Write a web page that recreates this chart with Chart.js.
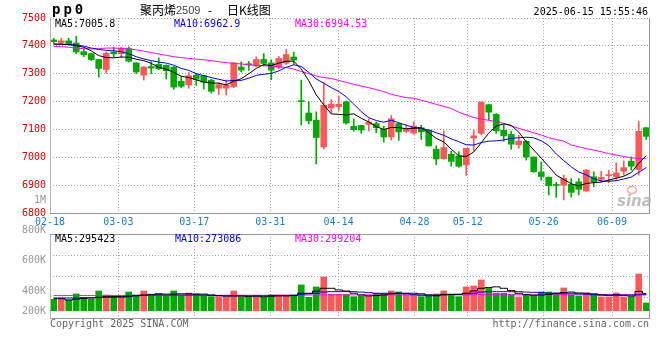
<!DOCTYPE html>
<html><head><meta charset="utf-8">
<script src="https://cdn.jsdelivr.net/npm/chart.js@4"></script>
<style>
html,body{margin:0;padding:0;background:#fff;}
#wrap{position:relative;width:660px;height:360px;background:#fff;}
canvas{position:absolute;left:0;top:0;}
</style></head><body>
<div id="wrap"><canvas id="c1" width="660" height="360"></canvas><canvas id="c2" width="660" height="360"></canvas></div>
<script>
// ---- data ----
const opens = [7421,7412,7418,7410,7379,7372,7351,7315,7378,7372,
7390,7339,7295,7326,7334,7330,7324,7273,7260,7295,
7293,7277,7248,7248,7254,7324,7335,7328,7351,7339,
7323,7338,7360,7202,7159,7133,7037,7177,7182,7199,
7111,7114,7118,7121,7100,7073,7121,7093,7087,7106,
7097,7029,6995,7011,7005,6973,7069,7086,7189,7154,
7097,7082,7045,7058,7001,6947,6928,6902,6900,6903,
6912,6879,6930,6921,6934,6930,6950,6986,6956,7106];
const highs = [7427,7427,7427,7434,7388,7374,7352,7378,7395,7395,
7396,7340,7326,7343,7357,7332,7326,7290,7304,7300,
7294,7280,7268,7278,7340,7342,7344,7360,7372,7350,
7362,7387,7377,7277,7200,7163,7268,7207,7220,7202,
7138,7115,7138,7127,7112,7150,7123,7118,7127,7115,
7100,7041,7095,7022,7020,7033,7098,7199,7190,7157,
7118,7094,7079,7059,7002,6983,6930,6910,6936,6923,
6924,6956,6948,6950,6954,6980,6987,7001,7129,7107];
const lows = [7409,7408,7404,7372,7361,7347,7288,7302,7360,7357,
7342,7301,7277,7300,7314,7281,7244,7250,7248,7258,
7245,7230,7225,7224,7250,7306,7312,7325,7327,7278,
7317,7333,7333,7116,7120,6976,7030,7159,7168,7119,
7094,7086,7094,7088,7055,7062,7061,7088,7082,7064,
7040,6973,6993,6968,6964,6935,7024,7080,7134,7086,
7058,7029,7032,6990,6946,6918,6865,6856,6847,6857,
6865,6878,6894,6912,6909,6918,6936,6954,6936,7064];
const closes = [7415,7418,7408,7378,7368,7351,7319,7374,7371,7392,
7345,7306,7324,7320,7318,7311,7252,7255,7293,7280,
7269,7237,7261,7260,7339,7313,7332,7351,7337,7313,
7355,7369,7349,7200,7131,7071,7187,7191,7190,7123,
7099,7098,7126,7106,7073,7138,7091,7104,7112,7091,
7041,6994,7035,6985,6968,7032,7077,7198,7162,7095,
7077,7047,7058,7001,6948,6931,6898,6899,6924,6874,
6885,6954,6912,6928,6937,6944,6963,6968,7093,7075];
const ma5 = [7406,7406,7404,7401,7395,7382,7365,7358,7357,7360,
7359,7352,7347,7337,7323,7316,7305,7291,7286,7278,
7270,7267,7266,7260,7273,7282,7300,7319,7333,7329,
7338,7345,7345,7317,7275,7224,7188,7156,7154,7152,
7156,7140,7127,7110,7100,7107,7107,7102,7104,7106,
7088,7068,7055,7029,7005,7003,7019,7052,7087,7112,
7120,7115,7090,7056,7026,6997,6967,6936,6920,6905,
6897,6906,6909,6911,6918,6925,6932,6945,6978,7006];
const ma10 = [7406,7406,7405,7403,7399,7392,7387,7384,7382,7379,
7372,7361,7353,7347,7342,7338,7331,7319,7312,7300,
7293,7286,7280,7274,7276,7276,7284,7294,7298,7301,
7310,7323,7332,7326,7305,7281,7266,7250,7236,7217,
7191,7164,7142,7132,7126,7133,7124,7115,7107,7104,
7098,7088,7079,7066,7056,7045,7044,7053,7058,7059,
7062,7068,7070,7072,7070,7059,7042,7012,6988,6966,
6947,6937,6923,6915,6914,6916,6922,6929,6946,6963];
const ma30 = [7398,7397,7395,7392,7390,7389,7390,7392,7392,7391,
7389,7386,7381,7376,7371,7366,7361,7358,7355,7352,
7350,7347,7343,7340,7337,7335,7332,7330,7329,7327,
7325,7322,7317,7308,7300,7292,7286,7283,7276,7269,
7262,7256,7250,7243,7236,7226,7220,7214,7212,7205,
7198,7190,7183,7175,7162,7152,7143,7137,7133,7128,
7122,7112,7104,7096,7088,7080,7070,7064,7058,7044,
7038,7031,7026,7020,7013,7008,7003,6998,6996,6995];
// volumes in thousands of lots
const volumes = [196,196,184,287,230,196,339,270,258,230,
322,258,339,258,287,258,339,258,304,287,
258,241,241,230,339,230,230,241,230,270,
270,258,270,442,230,408,580,282,282,282,
241,253,253,299,299,339,322,270,270,241,
253,287,339,270,241,408,425,528,385,299,
299,270,236,270,253,322,322,299,390,270,
253,304,270,236,236,304,236,236,631,132];
const volMa5 = [207,207,184,200,213,220,230,241,241,245,
250,265,270,280,290,285,285,290,290,285,
285,270,260,250,255,250,245,250,240,250,
255,255,260,300,300,335,385,385,356,339,
300,270,255,260,270,290,300,300,300,290,
270,265,280,280,280,300,340,385,400,410,
385,345,300,275,265,270,280,300,310,320,
305,300,290,270,260,270,260,250,330,295];
const volMa10 = [218,218,218,218,218,220,225,230,230,232,
240,255,262,268,270,270,270,270,270,270,
268,262,258,255,255,255,255,255,255,258,
258,258,262,280,290,300,320,327,327,327,
327,320,310,300,300,299,299,290,275,265,
255,255,270,282,282,290,300,320,327,327,
327,327,327,320,315,310,300,299,299,299,
290,285,275,270,270,270,270,268,273,273];
const volMa30 = [262,262,262,262,262,262,262,262,262,262,
262,262,262,262,262,262,265,265,265,265,
265,265,265,265,265,265,265,265,265,265,
265,268,268,270,270,270,272,272,272,272,
272,272,272,272,272,272,272,272,272,272,
272,272,272,272,272,272,275,275,275,275,
275,275,275,275,275,275,275,275,275,275,
275,275,275,275,275,275,275,275,278,278];
const dateTickPos = [0,9,19,29,38,48,55,65,74];
const dateTickLabels = ['02-18','03-03','03-17','03-31','04-14','04-28','05-12','05-26','06-09'];
const priceMin = 6800, priceMax = 7500, priceStep = 100;
const volAxisLabels = ['1M','800K','600K','400K','200K'];
const priceLegend = ['MA5:7005.8','MA10:6962.9','MA30:6994.53'];
const volLegend = ['MA5:295423','MA10:273086','MA30:299204'];
const titleParts = ['聚丙烯', '2509', '-', '日K线图'];
const titleTime = '2025-06-15 15:55:46';

// ---- styles ----
const UP = '#ff5858', DOWN = '#00a800';
const GRID = '#a8a8a8';
const MONO = 'DejaVu Sans Mono';
const CJK = '"Noto Sans CJK SC"';
const candleColors = closes.map((c, i) => c >= opens[i] ? UP : DOWN);
const xs = closes.map((_, i) => i + 0.5);
const pts = arr => arr.map((v, i) => ({x: xs[i], y: v}));

function textBox(ctx, text, x, y, color) {
  const w = ctx.measureText(text).width;
  ctx.fillStyle = '#fff';
  ctx.fillRect(x - 1, y - 4, w + 2, 9);
  ctx.fillStyle = color;
  ctx.fillText(text, x, y);
}
function borders(ctx, a, topSolid) {
  ctx.save();
  ctx.setLineDash([]);
  ctx.lineWidth = 1;
  ctx.strokeStyle = '#b4b4b4';
  ctx.beginPath();
  ctx.moveTo(a.left + 0.5, a.top); ctx.lineTo(a.left + 0.5, a.bottom + 1);
  ctx.stroke();
  ctx.strokeStyle = '#999';
  ctx.beginPath();
  ctx.moveTo(a.right - 0.5, a.top); ctx.lineTo(a.right - 0.5, a.bottom + 1);
  ctx.moveTo(a.left, a.bottom + 0.5); ctx.lineTo(a.right, a.bottom + 0.5);
  if (topSolid) { ctx.moveTo(a.left, a.top + 0.5); ctx.lineTo(a.right, a.top + 0.5); }
  ctx.stroke();
  ctx.restore();
}

const pricePlugin = {
  id: 'priceDecor',
  afterDraw(chart) {
    const ctx = chart.ctx, a = chart.chartArea;
    borders(ctx, a, false);
    ctx.save();
    ctx.textBaseline = 'middle';
    ctx.textAlign = 'left';
    // legend row
    ctx.font = '10px "' + MONO + '"';
    textBox(ctx, priceLegend[0], 55, 24, '#000');
    textBox(ctx, priceLegend[1], 174, 24, '#0000ff');
    textBox(ctx, priceLegend[2], 295, 24, '#ff00ff');
    // header
    ctx.fillStyle = '#000';
    ctx.font = 'bold 14px "' + MONO + '"';
    try { ctx.letterSpacing = '3px'; } catch (e) {}
    ctx.fillText('pp0', 52, 10);
    try { ctx.letterSpacing = '0px'; } catch (e) {}
    let x = 140;
    ctx.font = '12px ' + CJK;
    ctx.fillText(titleParts[0], x, 10);
    x += ctx.measureText(titleParts[0]).width;
    ctx.fillStyle = '#444';
    ctx.font = '11px "Liberation Sans"';
    ctx.fillText(titleParts[1], x, 11);
    ctx.fillStyle = '#000';
    ctx.font = '12px ' + CJK;
    ctx.fillText(titleParts[2], 208, 10);
    ctx.fillText(titleParts[3], 227, 10);
    ctx.font = '10px "' + MONO + '"';
    ctx.textAlign = 'right';
    ctx.fillText(titleTime, 648, 12);
    // watermark
    ctx.textAlign = 'left';
    ctx.fillStyle = 'rgba(170,170,170,0.75)';
    ctx.font = 'italic bold 15px "DejaVu Sans"';
    ctx.fillText('sina', 617, 202);
    ctx.strokeStyle = 'rgba(235,150,150,0.8)';
    ctx.lineWidth = 1.5;
    ctx.beginPath(); ctx.ellipse(632, 190, 4.5, 3.5, 0, 0, Math.PI * 2); ctx.stroke();
    ctx.restore();
  }
};

const volPlugin = {
  id: 'volDecor',
  afterDraw(chart) {
    const ctx = chart.ctx, a = chart.chartArea;
    borders(ctx, a, true);
    ctx.save();
    ctx.textBaseline = 'middle';
    ctx.textAlign = 'left';
    ctx.font = '10px "' + MONO + '"';
    textBox(ctx, volLegend[0], 55, 239, '#000');
    textBox(ctx, volLegend[1], 175, 239, '#0000ff');
    textBox(ctx, volLegend[2], 295, 239, '#ff00ff');
    // volume axis labels as Sina places them
    ctx.fillStyle = '#999';
    ctx.textAlign = 'right';
    const ys = [200, 230, 260, 291, 311];
    volAxisLabels.forEach((t, k) => ctx.fillText(t, 46, ys[k]));
    // footer
    ctx.fillStyle = '#666';
    ctx.textAlign = 'left';
    ctx.fillText('Copyright 2025 SINA.COM', 50, 324);
    ctx.textAlign = 'right';
    ctx.fillText('http://finance.sina.com.cn', 649, 324);
    ctx.restore();
  }
};

const gridX = (showLabels) => ({
  type: 'linear', position: 'bottom', min: 0, max: 79, offset: false,
  afterBuildTicks: s => { s.ticks = dateTickPos.map(v => ({value: v})); },
  afterFit: s => { s.height = showLabels ? 21 : 0; },
  ticks: {display: showLabels, autoSkip: false, maxRotation: 0, padding: 3, color: '#1a7fd0',
          font: {family: MONO, size: 10}, callback: (v, i) => dateTickLabels[i]},
  grid: {color: GRID, drawTicks: false, lineWidth: 1, offset: false},
  border: {display: false, dash: [1, 2]}
});
const common = {
  responsive: false, animation: false, events: [],
  plugins: {legend: {display: false}, tooltip: {enabled: false}}
};

new Chart(document.getElementById('c1'), {
  type: 'bar',
  data: {datasets: [
    {type: 'line', data: pts(ma5), borderColor: '#000', borderWidth: 1, pointRadius: 0, tension: 0, order: 0},
    {type: 'line', data: pts(ma10), borderColor: '#0000ff', borderWidth: 1, pointRadius: 0, tension: 0, order: 0},
    {type: 'line', data: pts(ma30), borderColor: '#ff00ff', borderWidth: 1, pointRadius: 0, tension: 0, order: 0},
    {type: 'bar', data: opens.map((o, i) => ({x: xs[i], y: [Math.min(o, closes[i]), Math.max(o, closes[i])]})),
     backgroundColor: candleColors, barThickness: 6, grouped: false, minBarLength: 1, order: 1},
    {type: 'bar', data: lows.map((l, i) => ({x: xs[i], y: [l, highs[i]]})),
     backgroundColor: candleColors, barThickness: 1, grouped: false, order: 2}
  ]},
  options: Object.assign({}, common, {
    layout: {padding: {left: 0, top: 18, right: 10, bottom: 126}},
    scales: {
      x: {type: 'linear', display: false, min: 0, max: 80, offset: false, grid: {offset: false}},
      xg: gridX(true),
      y: {position: 'left', min: priceMin, max: priceMax,
          afterFit: s => { s.width = 50; },
          ticks: {stepSize: priceStep, color: '#e00000', padding: 4, font: {family: MONO, size: 10},
                  callback: v => String(v)},
          grid: {color: GRID, drawTicks: false, lineWidth: 1},
          border: {display: false, dash: [1, 2]}}
    }
  }),
  plugins: [pricePlugin]
});

new Chart(document.getElementById('c2'), {
  type: 'bar',
  data: {datasets: [
    {type: 'line', data: pts(volMa5), borderColor: '#000', borderWidth: 1, pointRadius: 0, stepped: 'middle', order: 0},
    {type: 'line', data: pts(volMa10), borderColor: '#0000ff', borderWidth: 1, pointRadius: 0, stepped: 'middle', order: 0},
    {type: 'line', data: pts(volMa30), borderColor: '#ff00ff', borderWidth: 1, pointRadius: 0, stepped: 'middle', order: 0},
    {type: 'bar', data: pts(volumes), backgroundColor: candleColors, barThickness: 6, grouped: false, order: 1}
  ]},
  options: Object.assign({}, common, {
    layout: {padding: {left: 0, top: 234, right: 10, bottom: 42}},
    scales: {
      x: {type: 'linear', display: false, min: 0, max: 80, offset: false, grid: {offset: false}},
      xg: gridX(false),
      y: {position: 'left', min: -126, max: 1319,
          afterBuildTicks: s => { const t = []; for (let k = 0; k <= 4; k++) t.push({value: s.min + k * (s.max - s.min) / 4}); s.ticks = t; },
          afterFit: s => { s.width = 50; },
          ticks: {display: false},
          grid: {color: GRID, drawTicks: false, lineWidth: 1},
          border: {display: false, dash: [1, 2]}}
    }
  }),
  plugins: [volPlugin]
});
</script>
</body></html>
